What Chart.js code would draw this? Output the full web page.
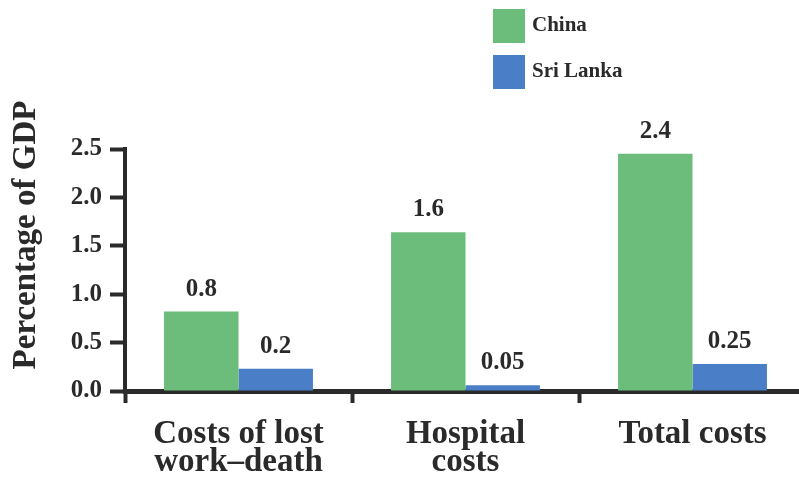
<!DOCTYPE html>
<html>
<head>
<meta charset="utf-8">
<script src="https://cdn.jsdelivr.net/npm/chart.js@4.4.1/dist/chart.umd.min.js"></script>
<style>
  html, body { margin: 0; padding: 0; background: #ffffff; overflow: hidden; }
  #wrap { width: 799px; height: 479px; overflow: hidden; position: relative; }
  canvas { display: block; }
</style>
</head>
<body>
<div id="wrap"><canvas id="c" width="808" height="479"></canvas></div>
<script>
// ---- data ----
const categories = [["Costs of lost", "work\u2013death"], ["Hospital", "costs"], "Total costs"];
const seriesNames = ["China", "Sri Lanka"];
const chinaValues = [0.82, 1.64, 2.45];
const sriLankaValues = [0.23, 0.06, 0.28];
const chinaLabels = ["0.8", "1.6", "2.4"];
const sriLankaLabels = ["0.2", "0.05", "0.25"];
const yTicks = [0, 0.5, 1.0, 1.5, 2.0, 2.5];
const yTitle = "Percentage of GDP";

// ---- styles ----
const GREEN = "#6cbd7b";
const BLUE = "#4a7ec6";
const INK = "#2a2a2a";
const SERIF = "'Liberation Serif', 'Times New Roman', serif";

const valueLabelPlugin = {
  id: "valueLabels",
  afterDatasetsDraw(chart) {
    const ctx = chart.ctx;
    const labelSets = [chinaLabels, sriLankaLabels];
    ctx.save();
    ctx.font = "bold 25px " + SERIF;
    ctx.fillStyle = INK;
    ctx.textAlign = "center";
    ctx.textBaseline = "alphabetic";
    chart.data.datasets.forEach((ds, di) => {
      const meta = chart.getDatasetMeta(di);
      meta.data.forEach((el, i) => {
        ctx.fillText(labelSets[di][i], el.x, el.y - 16);
      });
    });
    ctx.restore();
  }
};

const extrasPlugin = {
  id: "extras",
  afterDraw(chart) {
    const ctx = chart.ctx;
    ctx.save();
    // y-axis title
    ctx.font = "bold 33px " + SERIF;
    ctx.fillStyle = INK;
    ctx.textAlign = "center";
    ctx.textBaseline = "middle";
    ctx.translate(26, 235);
    ctx.rotate(-Math.PI / 2);
    ctx.fillText(yTitle, 0, 0);
    ctx.restore();

    // legend (stacked, top right)
    ctx.save();
    ctx.font = "bold 21px " + SERIF;
    ctx.textAlign = "left";
    ctx.textBaseline = "middle";
    chart.data.datasets.forEach((ds, i) => {
      const y = 9 + i * 46;
      ctx.fillStyle = ds.backgroundColor;
      ctx.fillRect(493, y, 32, 34);
      ctx.fillStyle = INK;
      ctx.fillText(ds.label, 532, y + 17);
    });
    ctx.restore();
  }
};

new Chart(document.getElementById("c"), {
  type: "bar",
  data: {
    labels: categories,
    datasets: [
      { label: seriesNames[0], data: chinaValues, backgroundColor: GREEN, borderWidth: 0 },
      { label: seriesNames[1], data: sriLankaValues, backgroundColor: BLUE, borderWidth: 0 }
    ]
  },
  options: {
    responsive: false,
    animation: false,
    devicePixelRatio: 1,
    layout: { padding: { left: 0, right: 2, top: 149, bottom: 0 } },
    datasets: { bar: { categoryPercentage: 0.656, barPercentage: 1.0 } },
    plugins: {
      legend: { display: false },
      tooltip: { enabled: false },
      title: { display: false }
    },
    scales: {
      x: {
        type: "category",
        afterFit(scale) { scale.height = 88; },
        border: { display: true, color: INK, width: 5 },
        grid: {
          offset: true,
          drawOnChartArea: false,
          drawTicks: true,
          tickLength: 12,
          tickWidth: 4,
          tickColor: INK,
          color: INK
        },
        ticks: {
          color: INK,
          font: { family: SERIF, size: 33, weight: "bold", lineHeight: 0.85 },
          maxRotation: 0,
          minRotation: 0,
          autoSkip: false,
          padding: 17
        }
      },
      y: {
        min: 0,
        max: 2.5,
        afterFit(scale) { scale.width = 125; },
        afterBuildTicks(scale) { scale.ticks = yTicks.map(v => ({ value: v })); },
        border: { display: true, color: INK, width: 4 },
        grid: {
          drawOnChartArea: false,
          drawTicks: true,
          tickLength: 15,
          tickWidth: 4,
          tickColor: INK,
          color: INK
        },
        ticks: {
          color: INK,
          font: { family: SERIF, size: 25, weight: "bold" },
          padding: 8,
          callback: (v) => Number(v).toFixed(1)
        }
      }
    }
  },
  plugins: [valueLabelPlugin, extrasPlugin]
});
</script>
</body>
</html>
